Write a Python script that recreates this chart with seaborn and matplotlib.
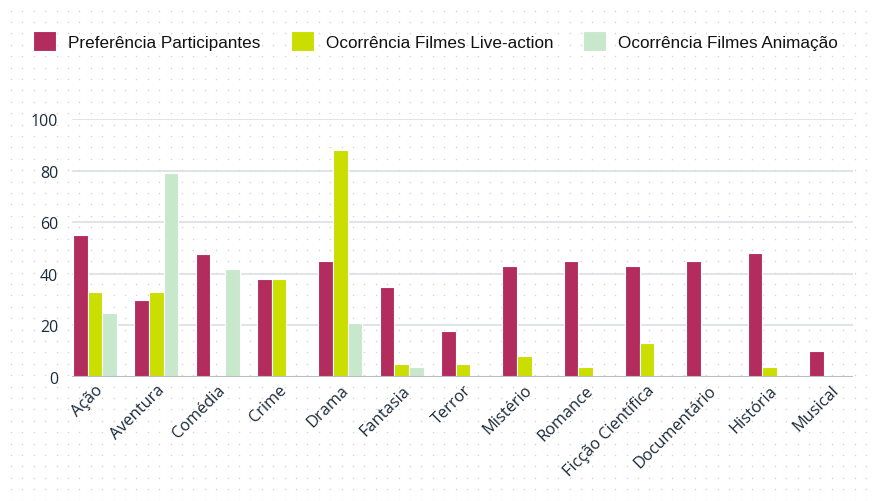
import numpy as np
import pandas as pd
import matplotlib
matplotlib.use('Agg')
import matplotlib.pyplot as plt
import seaborn as sns

# ── data ───────────────────────────────────────────────────────────────────────
generos = ['Ação', 'Aventura', 'Comédia', 'Crime', 'Drama', 'Fantasia', 'Terror',
           'Mistério', 'Romance', 'Ficção Científica', 'Documentário', 'História', 'Musical']
preferencia = [55, 30, 47.5, 38, 45, 35, 18, 43, 45, 43, 45, 48, 10]
live_action = [33, 33, 0, 38, 88, 5, 5, 8, 4, 13, 0, 4, 0]
animacao = [25, 79, 42, 0, 21, 4, 0, 0, 0, 0, 0, 0, 0]
series = ['Preferência Participantes', 'Ocorrência Filmes Live-action', 'Ocorrência Filmes Animação']
cores = ['#B32C5E', '#CADE00', '#C8E8CC']
y_ticks = [0, 20, 40, 60, 80, 100]

df = pd.DataFrame({'genero': generos * 3,
                   'serie': np.repeat(series, len(generos)),
                   'valor': preferencia + live_action + animacao})

sns.set_theme(style='white')
TXT = '#1b2a3a'

fig = plt.figure(figsize=(8.74, 5.02), dpi=100)

# dotted background
bg = fig.add_axes([0, 0, 1, 1], zorder=-1)
gx, gy = np.meshgrid(np.arange(11, 874, 11.4), np.arange(11.5, 502, 11.4))
bg.scatter(gx.ravel(), gy.ravel(), s=1.2, color='#d4d4d4', linewidths=0)
bg.set_xlim(0, 874)
bg.set_ylim(502, 0)
bg.axis('off')

ax = fig.add_axes([72 / 874, 124 / 502, 781 / 874, 258 / 502])
ax.set_facecolor('none')
sns.barplot(data=df, x='genero', y='valor', hue='serie', palette=cores, saturation=1,
            width=0.72, gap=0, edgecolor='white', linewidth=0.8, ax=ax, zorder=3)

ax.set_ylim(0, 100)
ax.set_yticks(y_ticks)
ax.set_xlim(-0.375, len(generos) - 1 + 0.36)
for v in y_ticks[1:]:
    ax.axhline(v, color='#dcdfe3', linewidth=1.2, zorder=1)
ax.axhline(0, color='#b9bec4', linewidth=1.5, zorder=4)
sns.despine(ax=ax, left=True, bottom=True)
ax.set_xlabel('')
ax.set_ylabel('')
ax.tick_params(axis='both', length=0, colors=TXT)
ax.tick_params(axis='y', pad=10)
for lbl in ax.get_yticklabels():
    lbl.set_fontfamily('Open Sans')
    lbl.set_fontsize(11.5)
for lbl in ax.get_xticklabels():
    lbl.set_fontfamily('Open Sans')
    lbl.set_fontsize(11.8)
    lbl.set_rotation(45)
    lbl.set_ha('right')
    lbl.set_rotation_mode('anchor')

handles, labels = ax.get_legend_handles_labels()
ax.legend(handles, labels, loc='center left', bbox_to_anchor=(18 / 874, 1 - 42 / 502),
          bbox_transform=fig.transFigure, ncol=3, frameon=False,
          prop={'family': 'Liberation Sans', 'size': 12.3},
          handlelength=1.35, handleheight=1.35, handletextpad=0.7, columnspacing=1.75,
          labelcolor='#111111')

plt.savefig('out.png', dpi=100)
